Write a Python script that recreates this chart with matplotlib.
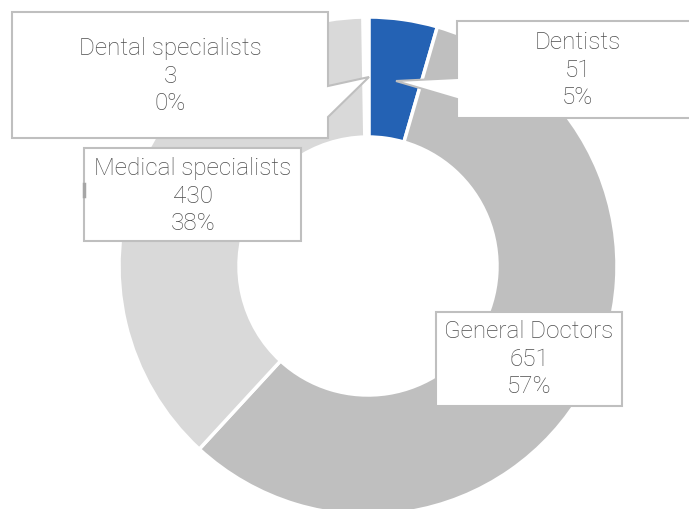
import matplotlib.pyplot as plt
from matplotlib.patches import Polygon

plt.rcParams['font.family'] = ['Roboto', 'DejaVu Sans']

categories = ['Dentists', 'General Doctors', 'Medical specialists', 'Dental specialists']
counts = [51, 651, 430, 3]
pct_labels = ['5%', '57%', '38%', '0%']
colors = ['#2462B4', '#BFBFBF', '#D9D9D9', '#D9D9D9']

W, H = 689, 509


def py(y):
    # picture rows go downwards, axes go upwards
    return H - y


fig = plt.figure(figsize=(W / 100, H / 100), dpi=100)
ax = fig.add_axes([0, 0, 1, 1])

wedges, _ = ax.pie(counts, colors=colors, startangle=90, counterclock=False,
                   center=(368, py(266)), radius=249, frame=True,
                   wedgeprops=dict(width=120, edgecolor='white', linewidth=2.5))
# the tiny slice is almost all white edge in the original
wedges[3].set_linewidth(4)
ax.set_xlim(0, W)
ax.set_ylim(0, H)
ax.set_aspect('equal')
ax.axis('off')

edge = '#BFBFBF'
txt = '#4D4D4D'

# label boxes (callout outlines in picture pixels)
boxes = {
    'Dental specialists': [(12, 12), (328, 12), (328, 86), (369, 77), (328, 117),
                           (328, 138), (12, 138)],
    'Dentists': [(457, 21), (700, 21), (700, 118), (457, 118), (457, 99),
                 (396, 81), (457, 78)],
    'Medical specialists': [(84, 148), (301, 148), (301, 241), (84, 241)],
    'General Doctors': [(436, 312), (622, 312), (622, 406), (436, 406)],
}
centers = {
    'Dental specialists': (170, 76),
    'Dentists': (578, 70),
    'Medical specialists': (193, 196),
    'General Doctors': (529, 359),
}

for name, n, p in zip(categories, counts, pct_labels):
    pts = [(x, py(y)) for x, y in boxes[name]]
    ax.add_patch(Polygon(pts, closed=True, facecolor='white', edgecolor=edge,
                         linewidth=1.5, zorder=3))
    cx, cy = centers[name]
    ax.text(cx, py(cy), f'{name}\n{n}\n{p}', ha='center', va='center',
            fontsize=17.5, fontweight='light', color=txt, linespacing=1.24,
            zorder=4)

# small leader stub on the medical specialists box
ax.plot([84, 84], [py(184), py(196)], color='#A6A6A6', lw=2.5, zorder=4)

fig.savefig('out.png', dpi=100)
